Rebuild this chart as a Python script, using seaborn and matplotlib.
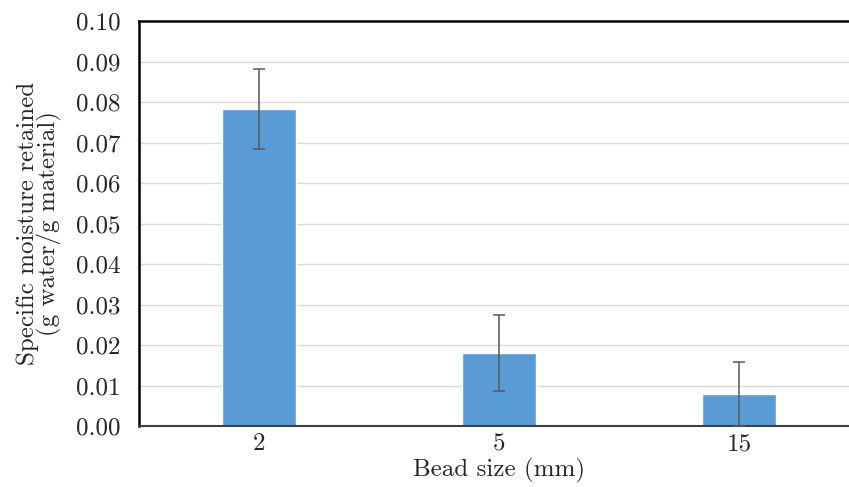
import matplotlib
matplotlib.use("Agg")
import matplotlib.pyplot as plt
import seaborn as sns
import pandas as pd
from matplotlib.ticker import StrMethodFormatter

bead_sizes = ["2", "5", "15"]
moisture = [0.0783, 0.0181, 0.0078]
errors = [0.0099, 0.0094, 0.0079]

sns.set_style("white")
plt.rcParams['font.family'] = ['cmr10', 'DejaVu Sans']
plt.rcParams['axes.formatter.use_mathtext'] = True

df = pd.DataFrame({"Bead size": bead_sizes, "Moisture": moisture})

fig = plt.figure(figsize=(8.49, 4.87), dpi=100)
ax = fig.add_axes([139/849, 1 - 426/487, 720/849, 405/487])

sns.barplot(data=df, x="Bead size", y="Moisture", color="#5B9BD5",
            saturation=1, width=0.31, ax=ax, errorbar=None, zorder=2)
ax.errorbar(range(len(bead_sizes)), moisture, yerr=errors, fmt="none",
            ecolor="#595959", elinewidth=1.1, capsize=4, capthick=1.1, zorder=3)

ax.set_ylim(0, 0.10)
ax.set_xlim(-0.5, 2.5)
ax.set_yticks([i / 100 for i in range(11)])
ax.yaxis.set_major_formatter(StrMethodFormatter("{x:.2f}"))
ax.yaxis.grid(True, color="#D9D9D9", linewidth=1.0, zorder=0)
ax.set_axisbelow(True)

ax.tick_params(axis="y", length=0, pad=13, labelsize=18)
ax.tick_params(axis="x", length=0, pad=5, labelsize=18)

for side in ["left", "top"]:
    ax.spines[side].set_color("black")
    ax.spines[side].set_linewidth(1.8)
ax.spines["bottom"].set_color("#404040")
ax.spines["bottom"].set_linewidth(1.5)
ax.spines["right"].set_visible(False)

ax.set_xlabel("Bead size (mm)", fontsize=18, labelpad=2)
ax.set_ylabel("Specific moisture retained\n(g water/g material)", fontsize=18,
              labelpad=10, linespacing=0.9)

fig.savefig("out.png", dpi=100)
